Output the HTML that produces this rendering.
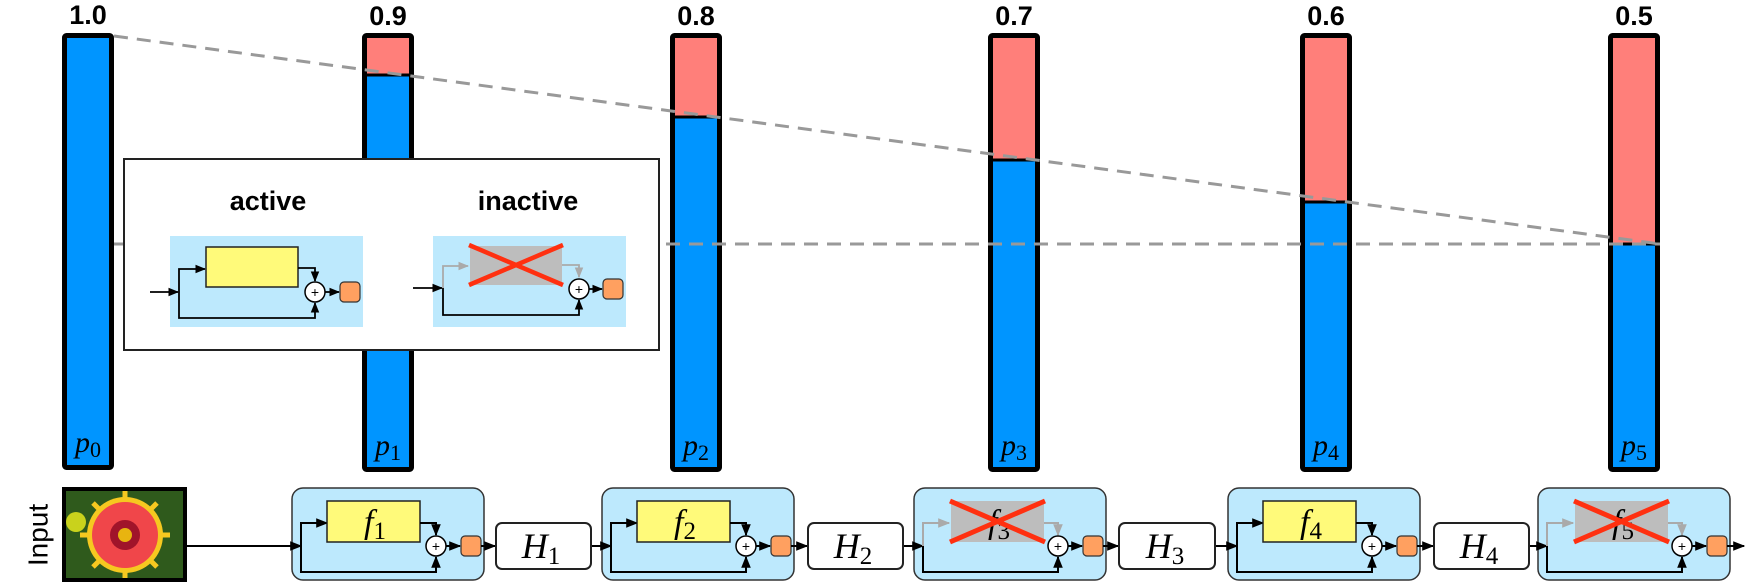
<!DOCTYPE html>
<html><head><meta charset="utf-8"><style>
html,body{margin:0;padding:0;background:#fff;}
svg{display:block;}
.lbl{font-family:"Liberation Sans",sans-serif;font-weight:bold;font-size:27px;text-anchor:middle;}
.m{font-family:"Liberation Serif",serif;font-style:italic;}
.s{font-style:normal;font-family:"Liberation Serif",serif;}
</style></head><body>
<svg width="1759" height="584" viewBox="0 0 1759 584" xmlns="http://www.w3.org/2000/svg">
<defs>
<marker id="a" viewBox="0 0 10 10" refX="9" refY="5" markerWidth="6" markerHeight="6" orient="auto"><path d="M0,1 L10,5 L0,9 z" fill="#000"/></marker>
<marker id="g" viewBox="0 0 10 10" refX="9" refY="5" markerWidth="6" markerHeight="6" orient="auto"><path d="M0,1 L10,5 L0,9 z" fill="#aaa"/></marker>
<g id="act">
<rect x="0" y="488" width="192" height="92" rx="11" fill="#bde9fd" stroke="#333" stroke-width="1.5"/>
<line x1="0" y1="546" x2="9" y2="546" stroke="#000" stroke-width="2" marker-end="url(#a)"/>
<polyline points="9,546 9,523 35,523" fill="none" stroke="#000" stroke-width="2" marker-end="url(#a)"/>
<polyline points="9,546 9,572 144,572 144,557" fill="none" stroke="#000" stroke-width="2" marker-end="url(#a)"/>
<rect x="35" y="501" width="93" height="41" fill="#fffa7a" stroke="#222" stroke-width="1.5"/>
<polyline points="128,523 144,523 144,535" fill="none" stroke="#000" stroke-width="2" marker-end="url(#a)"/>
<circle cx="144" cy="546" r="10" fill="#fff" stroke="#000" stroke-width="1.5"/>
<text x="144" y="551" font-size="14" text-anchor="middle" font-family="Liberation Sans">+</text>
<line x1="154" y1="546" x2="168" y2="546" stroke="#000" stroke-width="2" marker-end="url(#a)"/>
<rect x="169" y="536" width="20" height="20" rx="4" fill="#ffa060" stroke="#333" stroke-width="1.2"/>
</g>
<g id="ina">
<rect x="0" y="488" width="192" height="92" rx="11" fill="#bde9fd" stroke="#333" stroke-width="1.5"/>
<line x1="0" y1="546" x2="9" y2="546" stroke="#000" stroke-width="2" marker-end="url(#a)"/>
<polyline points="9,546 9,523 35,523" fill="none" stroke="#aaa" stroke-width="2" marker-end="url(#g)"/>
<polyline points="9,546 9,572 144,572 144,557" fill="none" stroke="#000" stroke-width="2" marker-end="url(#a)"/>
<rect x="37" y="501" width="93" height="41" fill="#bdbdbd"/>
<polyline points="130,523 144,523 144,535" fill="none" stroke="#aaa" stroke-width="2" marker-end="url(#g)"/>
<circle cx="144" cy="546" r="10" fill="#fff" stroke="#000" stroke-width="1.5"/>
<text x="144" y="551" font-size="14" text-anchor="middle" font-family="Liberation Sans">+</text>
<line x1="154" y1="546" x2="168" y2="546" stroke="#000" stroke-width="2" marker-end="url(#a)"/>
<rect x="169" y="536" width="20" height="20" rx="4" fill="#ffa060" stroke="#333" stroke-width="1.2"/>
</g>
</defs>

<!-- bars -->
<g stroke="#000" stroke-width="5">
<rect x="64.5" y="35.5" width="47" height="432" rx="2" fill="#0095ff"/>
<rect x="364.5" y="35.5" width="47" height="434" rx="2" fill="#0095ff"/>
<rect x="672.5" y="35.5" width="47" height="434" rx="2" fill="#0095ff"/>
<rect x="990.5" y="35.5" width="47" height="434" rx="2" fill="#0095ff"/>
<rect x="1302.5" y="35.5" width="47" height="434" rx="2" fill="#0095ff"/>
<rect x="1610.5" y="35.5" width="47" height="434" rx="2" fill="#0095ff"/>
</g>
<g fill="#ff7f7a" stroke="none">
<rect x="367" y="38" width="42" height="36"/>
<rect x="675" y="38" width="42" height="78"/>
<rect x="993" y="38" width="42" height="121"/>
<rect x="1305" y="38" width="42" height="163"/>
<rect x="1613" y="38" width="42" height="205"/>
</g>
<g stroke="#000" stroke-width="3">
<line x1="367" y1="75" x2="409" y2="75"/>
<line x1="675" y1="117" x2="717" y2="117"/>
<line x1="993" y1="160" x2="1035" y2="160"/>
<line x1="1305" y1="202" x2="1347" y2="202"/>
<line x1="1613" y1="244" x2="1655" y2="244"/>
</g>
<line x1="114" y1="36" x2="1660" y2="244" stroke="#999" stroke-width="3" stroke-dasharray="14,9"/>
<line x1="114" y1="244" x2="1660" y2="244" stroke="#999" stroke-width="3" stroke-dasharray="14,9"/>

<g class="lbl">
<text x="88" y="24">1.0</text>
<text x="388" y="25">0.9</text>
<text x="696" y="25">0.8</text>
<text x="1014" y="25">0.7</text>
<text x="1326" y="25">0.6</text>
<text x="1634" y="25">0.5</text>
</g>
<g font-size="30" text-anchor="middle">
<text x="88" y="452" class="m">p<tspan class="s" font-size="22" dy="5">0</tspan></text>
<text x="388" y="455" class="m">p<tspan class="s" font-size="22" dy="5">1</tspan></text>
<text x="696" y="455" class="m">p<tspan class="s" font-size="22" dy="5">2</tspan></text>
<text x="1014" y="455" class="m">p<tspan class="s" font-size="22" dy="5">3</tspan></text>
<text x="1326" y="455" class="m">p<tspan class="s" font-size="22" dy="5">4</tspan></text>
<text x="1634" y="455" class="m">p<tspan class="s" font-size="22" dy="5">5</tspan></text>
</g>

<!-- inset -->
<rect x="124" y="159" width="535" height="191" fill="#fff" stroke="#222" stroke-width="2"/>
<text class="lbl" x="268" y="210">active</text>
<text class="lbl" x="528" y="210">inactive</text>
<rect x="170" y="236" width="193" height="91" fill="#bde9fd"/>
<line x1="150" y1="292" x2="178" y2="292" stroke="#000" stroke-width="1.8" marker-end="url(#a)"/>
<polyline points="179,292 179,269 205,269" fill="none" stroke="#000" stroke-width="1.8" marker-end="url(#a)"/>
<polyline points="179,292 179,318 315,318 315,303" fill="none" stroke="#000" stroke-width="1.8" marker-end="url(#a)"/>
<rect x="206" y="247" width="92" height="40" fill="#fffa7a" stroke="#222" stroke-width="1.5"/>
<polyline points="298,268 315,268 315,281" fill="none" stroke="#000" stroke-width="1.8" marker-end="url(#a)"/>
<circle cx="315" cy="292" r="10" fill="#fff" stroke="#000" stroke-width="1.5"/>
<text x="315" y="297" font-size="14" text-anchor="middle" font-family="Liberation Sans">+</text>
<line x1="325" y1="292" x2="339" y2="292" stroke="#000" stroke-width="1.8" marker-end="url(#a)"/>
<rect x="340" y="282" width="20" height="20" rx="4" fill="#ffa060" stroke="#333" stroke-width="1.2"/>

<rect x="433" y="236" width="193" height="91" fill="#bde9fd"/>
<line x1="413" y1="288" x2="442" y2="288" stroke="#000" stroke-width="1.8" marker-end="url(#a)"/>
<polyline points="443,288 443,266 468,266" fill="none" stroke="#aaa" stroke-width="1.8" marker-end="url(#g)"/>
<polyline points="443,288 443,315 579,315 579,300" fill="none" stroke="#000" stroke-width="1.8" marker-end="url(#a)"/>
<rect x="470" y="246" width="92" height="39" fill="#bdbdbd"/>
<polyline points="562,265 579,265 579,277" fill="none" stroke="#aaa" stroke-width="1.8" marker-end="url(#g)"/>
<line x1="469" y1="245" x2="563" y2="285" stroke="#ff3010" stroke-width="4.5"/>
<line x1="469" y1="285" x2="563" y2="245" stroke="#ff3010" stroke-width="4.5"/>
<circle cx="579" cy="289" r="10" fill="#fff" stroke="#000" stroke-width="1.5"/>
<text x="579" y="294" font-size="14" text-anchor="middle" font-family="Liberation Sans">+</text>
<line x1="589" y1="289" x2="602" y2="289" stroke="#000" stroke-width="1.8" marker-end="url(#a)"/>
<rect x="603" y="279" width="20" height="20" rx="4" fill="#ffa060" stroke="#333" stroke-width="1.2"/>

<!-- bottom row -->
<text x="40" y="535" transform="rotate(-90 40 535)" font-family="Liberation Sans" font-size="28" text-anchor="middle" dominant-baseline="middle">Input</text>
<rect x="64" y="489" width="121" height="91" fill="#2f5a1c" stroke="#000" stroke-width="4"/>
<circle cx="76" cy="522" r="10" fill="#c9d21c"/>
<g stroke="#f6c820" stroke-width="5">
<line x1="80" y1="535" x2="170" y2="535"/><line x1="125" y1="491" x2="125" y2="578"/>
<line x1="93" y1="503" x2="157" y2="567"/><line x1="93" y1="567" x2="157" y2="503"/>
</g>
<circle cx="125" cy="535" r="38" fill="#f6c820"/>
<circle cx="125" cy="535" r="33" fill="#f0464a"/>
<circle cx="125" cy="535" r="15" fill="#a0142a"/>
<circle cx="125" cy="535" r="7" fill="#e8b410"/>
<line x1="185" y1="546" x2="292" y2="546" stroke="#000" stroke-width="2"/>

<use href="#act" transform="translate(292,0)"/>
<use href="#act" transform="translate(602,0)"/>
<use href="#ina" transform="translate(914,0)"/>
<use href="#act" transform="translate(1228,0)"/>
<use href="#ina" transform="translate(1538,0)"/>

<g stroke="#000" stroke-width="2">
<line x1="481" y1="546" x2="495" y2="546" marker-end="url(#a)"/>
<line x1="591" y1="546" x2="602" y2="546"/>
<line x1="791" y1="546" x2="807" y2="546" marker-end="url(#a)"/>
<line x1="903" y1="546" x2="914" y2="546"/>
<line x1="1103" y1="546" x2="1118" y2="546" marker-end="url(#a)"/>
<line x1="1215" y1="546" x2="1228" y2="546"/>
<line x1="1417" y1="546" x2="1433" y2="546" marker-end="url(#a)"/>
<line x1="1529" y1="546" x2="1538" y2="546"/>
<line x1="1727" y1="546" x2="1744" y2="546" marker-end="url(#a)"/>
</g>
<g fill="#fff" stroke="#222" stroke-width="2">
<rect x="496" y="523" width="95" height="46" rx="6"/>
<rect x="808" y="523" width="95" height="46" rx="6"/>
<rect x="1119" y="523" width="96" height="46" rx="6"/>
<rect x="1434" y="523" width="95" height="46" rx="6"/>
</g>
<g font-size="36" text-anchor="middle">
<text x="541" y="558" class="m">H<tspan class="s" font-size="25" dy="6">1</tspan></text>
<text x="853" y="558" class="m">H<tspan class="s" font-size="25" dy="6">2</tspan></text>
<text x="1165" y="558" class="m">H<tspan class="s" font-size="25" dy="6">3</tspan></text>
<text x="1479" y="558" class="m">H<tspan class="s" font-size="25" dy="6">4</tspan></text>
</g>
<g font-size="34" text-anchor="middle">
<text x="375" y="533" class="m">f<tspan class="s" font-size="25" dy="6">1</tspan></text>
<text x="685" y="533" class="m">f<tspan class="s" font-size="25" dy="6">2</tspan></text>
<text x="999" y="533" class="m">f<tspan class="s" font-size="25" dy="6">3</tspan></text>
<text x="1311" y="533" class="m">f<tspan class="s" font-size="25" dy="6">4</tspan></text>
<text x="1623" y="533" class="m">f<tspan class="s" font-size="25" dy="6">5</tspan></text>
</g>
<g stroke="#ff3010" stroke-width="5">
<line x1="950" y1="501" x2="1045" y2="542"/>
<line x1="950" y1="542" x2="1045" y2="501"/>
<line x1="1574" y1="501" x2="1669" y2="542"/>
<line x1="1574" y1="542" x2="1669" y2="501"/>
</g>
</svg>
</body></html>
